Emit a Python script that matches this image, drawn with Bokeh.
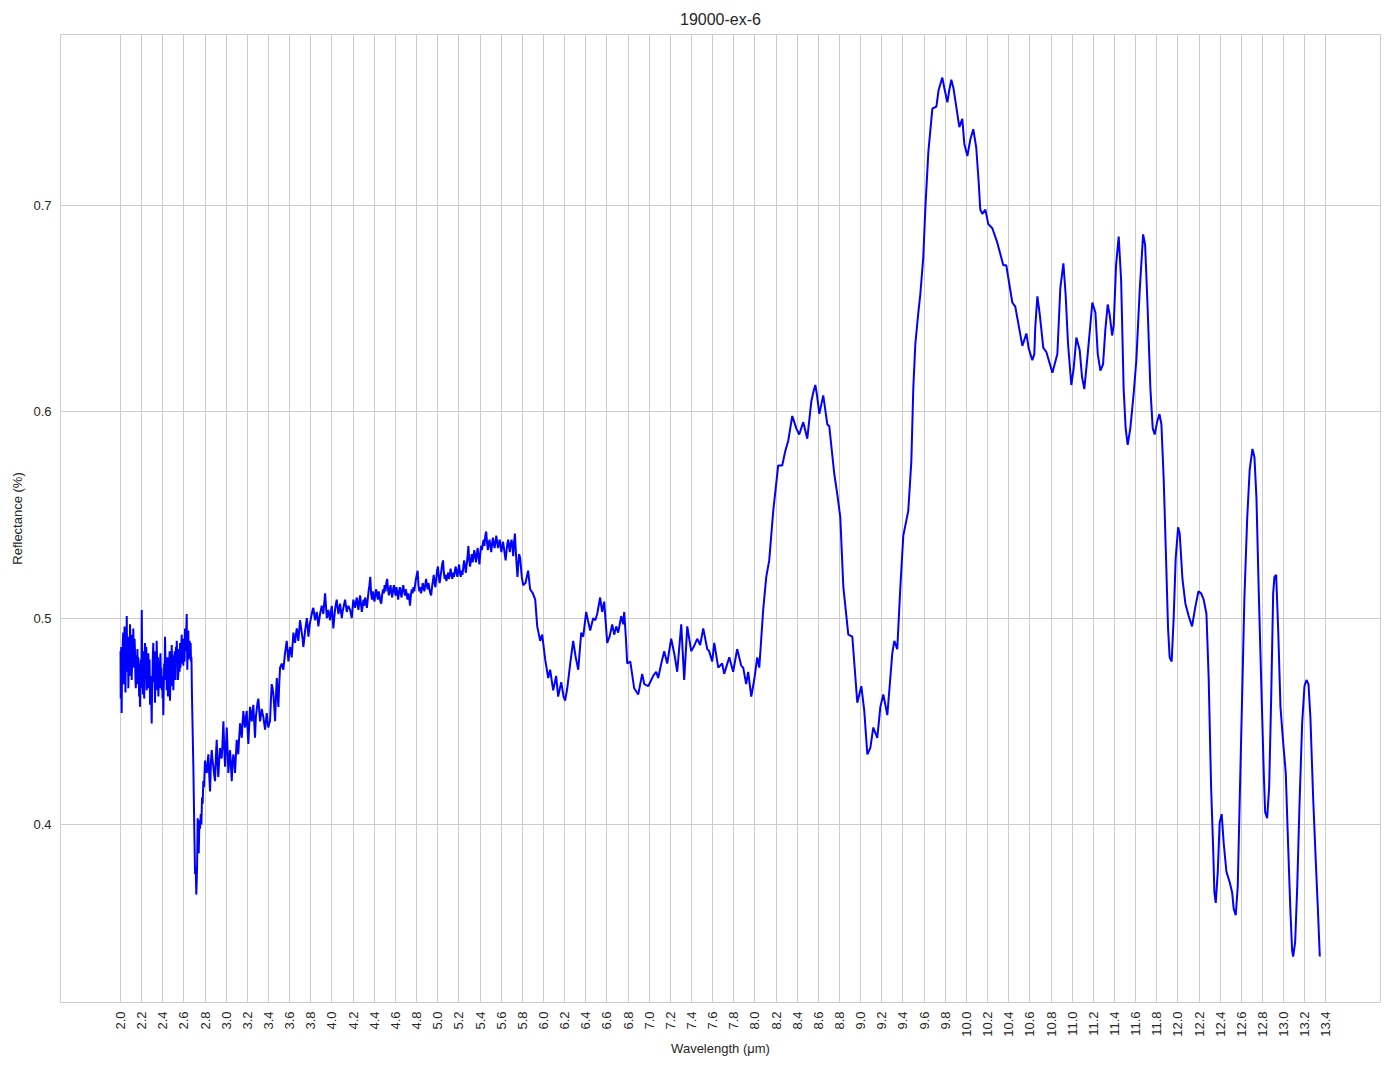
import math
from bokeh.plotting import figure
from bokeh.models import Range1d, FixedTicker, ColumnDataSource, PrintfTickFormatter
from bokeh.embed import file_html
from bokeh.resources import INLINE

TITLE = "19000-ex-6"
X_LABEL = "Wavelength (μm)"
Y_LABEL = "Reflectance (%)"

X_TICKS = [2.0, 2.2, 2.4, 2.6, 2.8, 3.0, 3.2, 3.4, 3.6, 3.8, 4.0, 4.2, 4.4, 4.6, 4.8,
           5.0, 5.2, 5.4, 5.6, 5.8, 6.0, 6.2, 6.4, 6.6, 6.8, 7.0, 7.2, 7.4, 7.6, 7.8,
           8.0, 8.2, 8.4, 8.6, 8.8, 9.0, 9.2, 9.4, 9.6, 9.8, 10.0, 10.2, 10.4, 10.6,
           10.8, 11.0, 11.2, 11.4, 11.6, 11.8, 12.0, 12.2, 12.4, 12.6, 12.8, 13.0,
           13.2, 13.4]
Y_TICKS = [0.4, 0.5, 0.6, 0.7]

# (wavelength um, reflectance)
seg_nir = [
    (2.000, 0.484), (2.002, 0.461), (2.004, 0.476), (2.007, 0.486), (2.009, 0.466),
    (2.011, 0.454), (2.015, 0.480), (2.018, 0.472), (2.022, 0.489), (2.026, 0.493),
    (2.030, 0.468), (2.034, 0.470), (2.038, 0.496), (2.043, 0.478), (2.047, 0.464),
    (2.051, 0.492), (2.055, 0.480), (2.059, 0.501), (2.062, 0.483), (2.066, 0.474),
    (2.070, 0.491), (2.074, 0.466), (2.078, 0.478), (2.082, 0.488), (2.086, 0.472),
    (2.090, 0.497), (2.094, 0.486), (2.098, 0.481), (2.102, 0.492), (2.106, 0.470),
    (2.110, 0.480), (2.113, 0.489), (2.117, 0.477), (2.121, 0.495), (2.125, 0.483),
    (2.129, 0.476), (2.133, 0.490), (2.137, 0.484), (2.141, 0.471), (2.145, 0.466),
    (2.149, 0.482), (2.153, 0.470), (2.157, 0.476), (2.160, 0.485), (2.164, 0.468),
    (2.168, 0.481), (2.172, 0.474), (2.176, 0.462), (2.180, 0.478), (2.184, 0.457),
    (2.188, 0.470), (2.192, 0.480), (2.197, 0.466), (2.201, 0.504), (2.204, 0.486),
    (2.208, 0.478), (2.212, 0.463), (2.216, 0.475), (2.220, 0.484), (2.224, 0.461),
    (2.228, 0.472), (2.232, 0.488), (2.236, 0.480), (2.240, 0.472), (2.244, 0.486),
    (2.248, 0.465), (2.252, 0.474), (2.256, 0.479), (2.260, 0.466), (2.263, 0.483),
    (2.267, 0.474), (2.271, 0.468), (2.275, 0.480), (2.279, 0.458), (2.283, 0.466),
    (2.287, 0.472), (2.291, 0.460), (2.295, 0.449), (2.298, 0.463), (2.302, 0.470),
    (2.306, 0.482), (2.310, 0.488), (2.314, 0.469), (2.318, 0.474), (2.322, 0.484),
    (2.326, 0.459), (2.330, 0.470), (2.334, 0.476), (2.338, 0.465), (2.342, 0.489),
    (2.346, 0.479), (2.350, 0.470), (2.354, 0.481), (2.358, 0.462), (2.362, 0.469),
    (2.366, 0.474), (2.370, 0.466), (2.374, 0.479), (2.378, 0.483), (2.382, 0.470),
    (2.386, 0.476), (2.390, 0.465), (2.394, 0.472), (2.397, 0.461), (2.401, 0.468),
    (2.405, 0.453), (2.409, 0.467), (2.413, 0.478), (2.417, 0.470), (2.421, 0.491),
    (2.425, 0.480), (2.429, 0.472), (2.433, 0.481), (2.437, 0.465), (2.441, 0.476),
    (2.445, 0.470), (2.449, 0.462), (2.452, 0.481), (2.456, 0.469), (2.460, 0.474),
    (2.464, 0.484), (2.468, 0.460), (2.472, 0.471), (2.476, 0.478), (2.480, 0.467),
    (2.484, 0.487), (2.488, 0.479), (2.492, 0.474), (2.496, 0.482), (2.500, 0.465),
    (2.504, 0.476), (2.508, 0.473), (2.512, 0.484), (2.516, 0.479), (2.520, 0.470),
    (2.524, 0.486), (2.528, 0.477), (2.532, 0.489), (2.536, 0.482), (2.540, 0.481),
    (2.543, 0.470), (2.547, 0.473), (2.551, 0.485), (2.555, 0.479), (2.559, 0.474),
    (2.563, 0.488), (2.567, 0.476), (2.571, 0.481), (2.575, 0.486), (2.579, 0.492),
    (2.583, 0.478), (2.587, 0.485), (2.591, 0.490), (2.594, 0.477), (2.598, 0.483),
    (2.602, 0.486), (2.606, 0.479), (2.610, 0.495), (2.614, 0.484), (2.618, 0.488),
    (2.622, 0.493), (2.626, 0.502), (2.629, 0.486), (2.632, 0.475), (2.635, 0.483),
    (2.637, 0.488), (2.641, 0.494), (2.645, 0.480), (2.650, 0.484), (2.654, 0.489),
    (2.658, 0.481), (2.663, 0.488), (2.667, 0.479), (2.671, 0.481), (2.676, 0.462),
    (2.689, 0.428), (2.698, 0.397), (2.705, 0.376), (2.711, 0.379), (2.717, 0.366),
    (2.724, 0.379), (2.730, 0.403), (2.735, 0.392), (2.740, 0.386), (2.746, 0.402),
    (2.752, 0.398), (2.759, 0.405), (2.765, 0.400), (2.771, 0.413), (2.777, 0.410),
    (2.783, 0.421),
]

seg_rise = [
    (2.790, 0.418), (2.799, 0.431), (2.808, 0.426), (2.816, 0.425), (2.823, 0.430),
    (2.831, 0.434), (2.839, 0.424), (2.847, 0.416), (2.855, 0.430), (2.863, 0.436),
    (2.870, 0.431), (2.878, 0.428), (2.886, 0.424), (2.894, 0.421), (2.902, 0.433),
    (2.910, 0.441), (2.917, 0.430), (2.925, 0.423), (2.933, 0.431), (2.941, 0.437),
    (2.949, 0.434), (2.957, 0.432), (2.965, 0.440), (2.973, 0.450), (2.981, 0.437),
    (2.989, 0.428), (2.997, 0.438), (3.005, 0.447), (3.012, 0.437), (3.020, 0.425),
    (3.028, 0.431), (3.036, 0.436), (3.044, 0.429), (3.052, 0.421), (3.060, 0.430),
    (3.067, 0.434), (3.075, 0.431), (3.083, 0.425), (3.091, 0.433), (3.099, 0.441),
    (3.107, 0.438), (3.114, 0.434), (3.122, 0.442), (3.131, 0.449), (3.139, 0.446),
    (3.147, 0.442), (3.154, 0.449), (3.162, 0.455), (3.170, 0.450), (3.178, 0.447),
    (3.186, 0.452), (3.194, 0.455), (3.201, 0.447), (3.209, 0.439), (3.217, 0.448),
    (3.225, 0.457), (3.233, 0.453), (3.241, 0.450), (3.249, 0.455), (3.256, 0.458),
    (3.264, 0.450), (3.272, 0.442), (3.280, 0.452), (3.289, 0.456), (3.296, 0.459),
    (3.304, 0.461), (3.312, 0.455), (3.320, 0.450), (3.328, 0.453), (3.336, 0.456),
    (3.343, 0.454), (3.351, 0.452), (3.359, 0.449), (3.367, 0.446), (3.375, 0.450),
    (3.383, 0.454), (3.390, 0.450), (3.398, 0.447), (3.406, 0.449), (3.414, 0.450),
    (3.422, 0.460), (3.430, 0.468), (3.438, 0.466), (3.446, 0.463), (3.454, 0.457),
    (3.462, 0.450), (3.470, 0.462), (3.478, 0.471), (3.485, 0.464), (3.493, 0.457),
    (3.501, 0.468), (3.509, 0.476), (3.517, 0.477), (3.525, 0.478), (3.532, 0.476),
    (3.540, 0.475), (3.548, 0.479), (3.556, 0.483), (3.564, 0.486), (3.572, 0.489),
    (3.580, 0.484), (3.588, 0.479), (3.596, 0.483), (3.604, 0.486), (3.612, 0.484),
    (3.619, 0.481), (3.627, 0.487), (3.635, 0.493), (3.643, 0.490), (3.651, 0.488),
    (3.659, 0.492), (3.667, 0.495), (3.675, 0.492), (3.682, 0.489), (3.690, 0.494),
    (3.698, 0.499), (3.706, 0.496), (3.714, 0.493), (3.722, 0.490), (3.729, 0.486),
    (3.738, 0.490), (3.746, 0.494), (3.754, 0.497), (3.762, 0.500), (3.770, 0.496),
    (3.777, 0.491), (3.785, 0.495), (3.793, 0.498), (3.801, 0.500), (3.809, 0.502),
    (3.817, 0.504), (3.824, 0.505), (3.832, 0.502), (3.840, 0.499), (3.848, 0.501),
    (3.856, 0.503), (3.864, 0.500), (3.871, 0.496), (3.879, 0.499), (3.887, 0.502),
    (3.895, 0.504), (3.903, 0.506), (3.911, 0.504), (3.918, 0.502), (3.926, 0.507),
    (3.935, 0.512), (3.943, 0.506), (3.951, 0.500), (3.958, 0.502), (3.966, 0.504),
    (3.974, 0.501), (3.982, 0.499), (3.990, 0.503), (3.998, 0.506), (4.006, 0.500),
    (4.013, 0.495), (4.021, 0.500), (4.029, 0.504), (4.037, 0.507), (4.045, 0.509),
    (4.053, 0.505), (4.061, 0.502), (4.069, 0.505), (4.077, 0.507), (4.085, 0.503),
    (4.093, 0.500), (4.100, 0.503), (4.108, 0.505), (4.116, 0.507), (4.124, 0.509),
    (4.132, 0.506), (4.140, 0.503), (4.148, 0.505), (4.155, 0.506), (4.163, 0.505),
    (4.171, 0.504), (4.179, 0.502), (4.187, 0.500), (4.195, 0.505), (4.202, 0.509),
    (4.210, 0.507), (4.219, 0.505), (4.227, 0.508), (4.235, 0.510), (4.242, 0.507),
    (4.250, 0.504),
]

seg_plateau = [
    (4.258, 0.508), (4.266, 0.511), (4.274, 0.507), (4.282, 0.503), (4.290, 0.506),
    (4.298, 0.509), (4.306, 0.506), (4.314, 0.510), (4.322, 0.508), (4.330, 0.505),
    (4.338, 0.509), (4.346, 0.513), (4.354, 0.516), (4.362, 0.520), (4.370, 0.512),
    (4.378, 0.509), (4.386, 0.513), (4.394, 0.510), (4.402, 0.508), (4.410, 0.512),
    (4.418, 0.514), (4.426, 0.511), (4.434, 0.509), (4.442, 0.513), (4.450, 0.511),
    (4.458, 0.508), (4.466, 0.507), (4.474, 0.511), (4.482, 0.514), (4.490, 0.512),
    (4.498, 0.516), (4.506, 0.513), (4.514, 0.517), (4.522, 0.519), (4.530, 0.514),
    (4.538, 0.511), (4.546, 0.514), (4.554, 0.516), (4.562, 0.512), (4.570, 0.510),
    (4.578, 0.514), (4.586, 0.516), (4.594, 0.513), (4.602, 0.511), (4.610, 0.515),
    (4.618, 0.512), (4.626, 0.509), (4.634, 0.513), (4.642, 0.515), (4.650, 0.512),
    (4.658, 0.510), (4.666, 0.514), (4.674, 0.516), (4.682, 0.513), (4.690, 0.511),
    (4.698, 0.514), (4.706, 0.512), (4.714, 0.509), (4.722, 0.512), (4.730, 0.510),
    (4.738, 0.506), (4.746, 0.511), (4.754, 0.514), (4.762, 0.512), (4.770, 0.515),
    (4.778, 0.513), (4.786, 0.516), (4.794, 0.519), (4.802, 0.521), (4.810, 0.523),
    (4.818, 0.516), (4.826, 0.513), (4.834, 0.515), (4.842, 0.512), (4.850, 0.514),
    (4.858, 0.517), (4.866, 0.515), (4.874, 0.513), (4.882, 0.516), (4.890, 0.519),
    (4.898, 0.516), (4.906, 0.514), (4.914, 0.517), (4.922, 0.514), (4.930, 0.512),
    (4.938, 0.511), (4.946, 0.515), (4.954, 0.518), (4.962, 0.521), (4.970, 0.517),
    (4.978, 0.515), (4.986, 0.519), (4.994, 0.523), (5.002, 0.525), (5.010, 0.520),
    (5.018, 0.517), (5.026, 0.520), (5.034, 0.523), (5.042, 0.526), (5.050, 0.528),
    (5.058, 0.522), (5.066, 0.519), (5.074, 0.521), (5.082, 0.518), (5.090, 0.520),
    (5.098, 0.522), (5.106, 0.519), (5.114, 0.521), (5.122, 0.524), (5.130, 0.521),
    (5.138, 0.519), (5.146, 0.522), (5.154, 0.520), (5.162, 0.523), (5.170, 0.525),
    (5.178, 0.522), (5.186, 0.520), (5.194, 0.523), (5.202, 0.526), (5.210, 0.522),
    (5.218, 0.520), (5.226, 0.523), (5.234, 0.521), (5.242, 0.525), (5.250, 0.528),
    (5.258, 0.525), (5.266, 0.522), (5.274, 0.526), (5.282, 0.530), (5.290, 0.535),
    (5.298, 0.528), (5.306, 0.525), (5.314, 0.528), (5.322, 0.531), (5.330, 0.527),
    (5.338, 0.530), (5.346, 0.533), (5.354, 0.530), (5.362, 0.527), (5.370, 0.531),
    (5.378, 0.534), (5.386, 0.530), (5.394, 0.526), (5.402, 0.531), (5.410, 0.535),
    (5.418, 0.533), (5.426, 0.536), (5.434, 0.538), (5.442, 0.535), (5.450, 0.540),
    (5.458, 0.542), (5.466, 0.537), (5.474, 0.533), (5.482, 0.536), (5.490, 0.538),
    (5.498, 0.535), (5.506, 0.532), (5.514, 0.536), (5.522, 0.539), (5.530, 0.536),
    (5.538, 0.534), (5.546, 0.537), (5.554, 0.540), (5.562, 0.537), (5.570, 0.534),
    (5.578, 0.536), (5.586, 0.538), (5.594, 0.535), (5.602, 0.532), (5.610, 0.535),
    (5.618, 0.537), (5.626, 0.534), (5.634, 0.531), (5.642, 0.528), (5.650, 0.532),
    (5.658, 0.536), (5.666, 0.538), (5.674, 0.535), (5.682, 0.532), (5.690, 0.536),
    (5.698, 0.538), (5.706, 0.535), (5.714, 0.530), (5.722, 0.537), (5.730, 0.541),
    (5.738, 0.533), (5.746, 0.526), (5.754, 0.520), (5.762, 0.526), (5.770, 0.531),
]

seg_mid = [
    (5.780, 0.529), (5.795, 0.520), (5.808, 0.516), (5.830, 0.517), (5.855, 0.523),
    (5.874, 0.514), (5.900, 0.512), (5.922, 0.509), (5.941, 0.496), (5.969, 0.489),
    (5.988, 0.492), (6.016, 0.480), (6.045, 0.471), (6.063, 0.475), (6.092, 0.465),
    (6.120, 0.472), (6.139, 0.462), (6.168, 0.469), (6.190, 0.462), (6.205, 0.460),
    (6.225, 0.466), (6.253, 0.478), (6.281, 0.489), (6.305, 0.481), (6.329, 0.475),
    (6.357, 0.493), (6.376, 0.491), (6.404, 0.503), (6.420, 0.499), (6.442, 0.494),
    (6.470, 0.500), (6.490, 0.499), (6.508, 0.502), (6.536, 0.510), (6.555, 0.503),
    (6.574, 0.508), (6.603, 0.488), (6.625, 0.491), (6.650, 0.497), (6.669, 0.492),
    (6.688, 0.496), (6.707, 0.493), (6.735, 0.501), (6.754, 0.497), (6.764, 0.503),
    (6.780, 0.490), (6.792, 0.478), (6.821, 0.479), (6.858, 0.466), (6.896, 0.463),
    (6.934, 0.473), (6.953, 0.468), (6.991, 0.467), (7.038, 0.472), (7.066, 0.474),
    (7.085, 0.471), (7.114, 0.478), (7.142, 0.484), (7.170, 0.478), (7.208, 0.490),
    (7.240, 0.482), (7.265, 0.474), (7.303, 0.497), (7.331, 0.470), (7.360, 0.496),
    (7.397, 0.484), (7.420, 0.486), (7.454, 0.490), (7.482, 0.487), (7.511, 0.495),
    (7.549, 0.485), (7.567, 0.484), (7.596, 0.479), (7.615, 0.488), (7.653, 0.476),
    (7.690, 0.478), (7.709, 0.473), (7.757, 0.481), (7.794, 0.474), (7.832, 0.485),
    (7.870, 0.477), (7.889, 0.476), (7.917, 0.468), (7.936, 0.474), (7.965, 0.462),
    (7.993, 0.470), (8.022, 0.481), (8.041, 0.476),
]

seg_lwir = [
    (8.078, 0.504), (8.107, 0.520), (8.135, 0.528), (8.173, 0.552), (8.220, 0.574),
    (8.258, 0.574), (8.287, 0.581), (8.315, 0.586), (8.353, 0.598), (8.391, 0.592),
    (8.419, 0.589), (8.457, 0.595), (8.495, 0.587), (8.533, 0.605), (8.554, 0.610),
    (8.571, 0.613), (8.587, 0.608), (8.609, 0.599), (8.646, 0.608), (8.684, 0.594),
    (8.703, 0.593), (8.750, 0.570), (8.779, 0.560), (8.807, 0.549), (8.836, 0.515),
    (8.883, 0.492), (8.921, 0.491), (8.968, 0.459), (9.006, 0.467), (9.034, 0.455),
    (9.063, 0.434), (9.091, 0.437), (9.119, 0.447), (9.157, 0.442), (9.186, 0.457),
    (9.214, 0.463), (9.252, 0.453), (9.299, 0.483), (9.318, 0.489), (9.346, 0.485),
    (9.375, 0.515), (9.403, 0.540), (9.450, 0.552), (9.479, 0.576), (9.498, 0.612),
    (9.517, 0.633), (9.545, 0.648), (9.564, 0.657), (9.592, 0.675), (9.611, 0.698),
    (9.640, 0.726), (9.678, 0.747), (9.716, 0.748), (9.737, 0.756), (9.772, 0.762),
    (9.791, 0.757), (9.820, 0.750), (9.838, 0.756), (9.857, 0.761), (9.877, 0.757),
    (9.895, 0.751), (9.933, 0.738), (9.961, 0.742), (9.980, 0.730), (10.009, 0.724),
    (10.037, 0.732), (10.065, 0.737), (10.093, 0.728), (10.115, 0.712), (10.131, 0.698),
    (10.150, 0.696), (10.179, 0.698), (10.207, 0.691), (10.245, 0.689), (10.292, 0.682),
    (10.349, 0.671), (10.377, 0.671), (10.434, 0.653), (10.462, 0.651), (10.529, 0.632),
    (10.567, 0.638), (10.588, 0.631), (10.623, 0.625), (10.642, 0.628), (10.651, 0.641),
    (10.671, 0.656), (10.692, 0.648), (10.727, 0.631), (10.756, 0.629), (10.813, 0.619),
    (10.860, 0.628), (10.888, 0.660), (10.917, 0.672), (10.938, 0.657), (10.961, 0.633),
    (10.992, 0.613), (11.014, 0.621), (11.040, 0.636), (11.071, 0.630), (11.093, 0.617),
    (11.115, 0.611), (11.147, 0.628), (11.191, 0.653), (11.220, 0.648), (11.242, 0.628),
]

seg_tail = [
    (11.267, 0.620), (11.292, 0.623), (11.314, 0.640), (11.336, 0.652), (11.355, 0.647),
    (11.378, 0.637), (11.393, 0.642), (11.415, 0.671), (11.440, 0.685), (11.463, 0.664),
    (11.487, 0.611), (11.506, 0.592), (11.525, 0.584), (11.550, 0.592), (11.582, 0.609),
    (11.607, 0.625), (11.639, 0.659), (11.671, 0.686), (11.690, 0.681), (11.714, 0.650),
    (11.740, 0.611), (11.762, 0.592), (11.781, 0.589), (11.803, 0.595), (11.825, 0.599),
    (11.844, 0.594), (11.866, 0.567), (11.885, 0.534), (11.907, 0.495), (11.922, 0.481),
    (11.941, 0.479), (11.960, 0.500), (11.979, 0.529), (12.002, 0.544), (12.017, 0.541),
    (12.043, 0.519), (12.071, 0.507), (12.102, 0.501), (12.134, 0.496), (12.163, 0.505),
    (12.194, 0.513), (12.220, 0.512), (12.244, 0.509), (12.270, 0.502), (12.291, 0.471),
    (12.314, 0.418), (12.333, 0.389), (12.345, 0.367), (12.358, 0.362), (12.377, 0.377),
    (12.395, 0.401), (12.414, 0.405), (12.433, 0.391), (12.459, 0.377), (12.490, 0.372),
    (12.513, 0.367), (12.528, 0.359), (12.547, 0.356), (12.566, 0.370), (12.585, 0.413),
    (12.607, 0.461), (12.629, 0.510), (12.655, 0.548), (12.679, 0.572), (12.705, 0.582),
    (12.724, 0.578), (12.743, 0.558), (12.764, 0.514), (12.787, 0.471), (12.812, 0.425),
    (12.825, 0.406), (12.844, 0.403), (12.863, 0.418), (12.882, 0.461), (12.901, 0.512),
    (12.913, 0.520), (12.929, 0.521), (12.948, 0.495), (12.970, 0.457), (12.995, 0.440),
    (13.020, 0.425), (13.043, 0.389), (13.064, 0.358), (13.080, 0.339), (13.090, 0.336),
    (13.109, 0.343), (13.128, 0.369), (13.149, 0.408), (13.175, 0.449), (13.197, 0.467),
    (13.216, 0.470), (13.235, 0.468), (13.253, 0.452), (13.279, 0.413), (13.304, 0.382),
    (13.323, 0.360), (13.342, 0.336),
]

segments = [seg_nir, seg_rise, seg_plateau, seg_mid, seg_lwir, seg_tail]
wavelength = [pt[0] for seg in segments for pt in seg]
reflectance = [pt[1] for seg in segments for pt in seg]

source = ColumnDataSource(data=dict(wavelength=wavelength, reflectance=reflectance))

FONT = "Liberation Sans"
TEXT = "#262626"
GRID = "#cccccc"

p = figure(
    width=1392, height=1066,
    output_backend="svg", toolbar_location=None,
    x_range=Range1d(1.4325, 13.916), y_range=Range1d(0.3137, 0.7829),
    min_border_left=60, min_border_right=12, min_border_top=34, min_border_bottom=64,
    background_fill_color="white", border_fill_color="white",
)

p.title.text = TITLE
p.title.align = "center"
p.title.text_font = FONT
p.title.text_font_size = "16px"
p.title.text_font_style = "normal"
p.title.text_color = TEXT
p.title.standoff = 13

p.line(x="wavelength", y="reflectance", source=source, line_color="#0000ff", line_width=2)

p.outline_line_color = GRID
p.outline_line_width = 1

xa = p.xaxis[0]
xa.ticker = FixedTicker(ticks=X_TICKS)
xa.formatter = PrintfTickFormatter(format="%.1f")
xa.major_label_orientation = math.pi / 2
xa.axis_label = X_LABEL
ya = p.yaxis[0]
ya.ticker = FixedTicker(ticks=Y_TICKS)
ya.formatter = PrintfTickFormatter(format="%.1f")
ya.axis_label = Y_LABEL

for ax in (xa, ya):
    ax.axis_line_color = None
    ax.major_tick_line_color = None
    ax.minor_tick_line_color = None
    ax.major_tick_out = 0
    ax.major_tick_in = 0
    ax.major_label_text_font = FONT
    ax.major_label_text_font_size = "13px"
    ax.major_label_text_color = TEXT
    ax.axis_label_text_font = FONT
    ax.axis_label_text_font_size = "13px"
    ax.axis_label_text_font_style = "normal"
    ax.axis_label_text_color = TEXT
    ax.major_label_standoff = 9
xa.axis_label_standoff = 1
ya.axis_label_standoff = 5

p.xgrid.ticker = FixedTicker(ticks=X_TICKS)
p.ygrid.ticker = FixedTicker(ticks=Y_TICKS)
p.grid.grid_line_color = GRID
p.grid.grid_line_width = 1

open("out.html", "w").write(file_html(p, INLINE))
